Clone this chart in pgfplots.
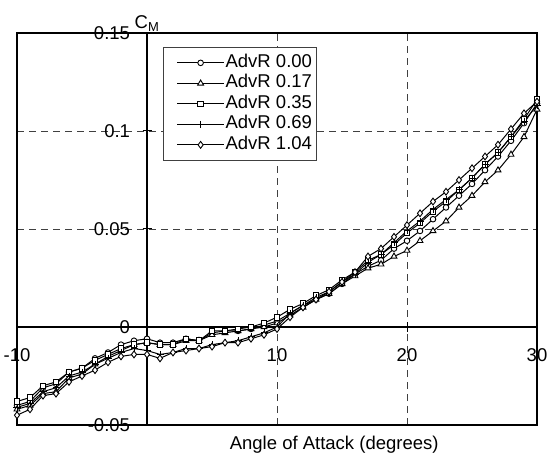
\documentclass[border=0pt]{standalone}
\usepackage{fontspec}
\setmainfont{Liberation Sans}
\usepackage{pgfplots}
\usepackage{pgfplotstable}
\pgfplotsset{compat=1.18}
\pgfplotstableread{
x c0 c17 c35 c69 c104
-10 -0.040 -0.042 -0.038 -0.041 -0.045
-9 -0.038 -0.040 -0.036 -0.039 -0.042
-8 -0.031 -0.034 -0.030 -0.033 -0.035
-7 -0.029 -0.033 -0.028 -0.031 -0.034
-6 -0.023 -0.026 -0.023 -0.025 -0.028
-5 -0.021 -0.024 -0.021 -0.023 -0.025
-4 -0.016 -0.019 -0.017 -0.019 -0.022
-3 -0.013 -0.015 -0.014 -0.016 -0.018
-2 -0.009 -0.012 -0.011 -0.013 -0.015
-1 -0.007 -0.009 -0.009 -0.011 -0.014
0 -0.006 -0.008 -0.008 -0.012 -0.014
1 -0.008 -0.009 -0.009 -0.014 -0.016
2 -0.008 -0.009 -0.009 -0.013 -0.013
3 -0.006 -0.007 -0.006 -0.011 -0.012
4 -0.007 -0.007 -0.007 -0.011 -0.011
5 -0.003 -0.004 -0.002 -0.009 -0.010
6 -0.002 -0.003 -0.002 -0.008 -0.008
7 -0.002 -0.002 -0.001 -0.007 -0.008
8 -0.001 -0.001 0.000 -0.005 -0.006
9 0.001 0.000 0.002 -0.003 -0.004
10 0.003 0.002 0.005 0.000 -0.001
11 0.007 0.006 0.009 0.007 0.005
12 0.011 0.010 0.012 0.011 0.010
13 0.014 0.014 0.016 0.015 0.014
14 0.017 0.017 0.019 0.018 0.018
15 0.022 0.022 0.024 0.023 0.023
16 0.027 0.026 0.028 0.027 0.028
17 0.031 0.030 0.034 0.033 0.036
18 0.034 0.032 0.037 0.037 0.040
19 0.040 0.036 0.042 0.043 0.046
20 0.044 0.039 0.048 0.049 0.052
21 0.049 0.044 0.053 0.054 0.058
22 0.055 0.049 0.059 0.060 0.064
23 0.061 0.054 0.064 0.065 0.069
24 0.067 0.061 0.070 0.070 0.075
25 0.073 0.067 0.076 0.076 0.081
26 0.080 0.074 0.083 0.083 0.087
27 0.087 0.080 0.089 0.089 0.093
28 0.095 0.088 0.097 0.097 0.101
29 0.104 0.097 0.106 0.105 0.109
30 0.114 0.111 0.116 0.113 0.115
}\datatable
\begin{document}
\begin{tikzpicture}
\begin{axis}[name=ax,
  width=520bp, height=392bp, scale only axis,
  xmin=-10, xmax=30, ymin=-0.05, ymax=0.15,
  clip=false,
  axis lines=middle,
  axis line style={-, line width=1.2bp, black},
  xtick={-10,10,20,30}, xticklabels={-10,10,20,30},
  ytick={-0.05,0,0.05,0.1,0.15}, yticklabels={-0.05,0,0.05,0.1,0.15},
  hide obscured x ticks=false, hide obscured y ticks=false,
  tick align=center, major tick length=9bp,
  tick style={black, line width=1bp},
  grid=major,
  grid style={black!75, line width=0.8bp, dash pattern=on 7bp off 5bp},
  font=\fontsize{18.5bp}{21bp}\selectfont,
  tick label style={font=\fontsize{18.5bp}{21bp}\selectfont},
  xticklabel style={anchor=north, yshift=-14bp},
  yticklabel style={anchor=east, xshift=-9bp},
  xlabel={Angle of Attack (degrees)},
  xlabel style={at={(rel axis cs:0.61,0)}, anchor=north, yshift=-8bp, font=\fontsize{18.5bp}{21bp}\selectfont},
  ylabel={C\textsubscript{M}},
  ylabel style={at={(rel axis cs:0.25,1)}, anchor=south, yshift=-2bp, font=\fontsize{18.5bp}{21bp}\selectfont},
  legend style={at={(rel axis cs:0.281,0.964)}, anchor=north west,
    draw=black!75, line width=1bp, fill=white,
    font=\fontsize{18.5bp}{21bp}\selectfont,
    nodes={inner sep=1bp, text height=13.5bp, text depth=5bp},
    inner xsep=3bp, inner ysep=5bp, row sep=0bp},
  legend cell align=left,
  legend image code/.code={\path (-10bp,0bp); \draw[#1, mark repeat=2, mark phase=2] plot coordinates {(0bp,0bp) (23.5bp,0bp) (47bp,0bp)};},
]
\addplot[black, line width=1bp, mark=*, mark size=2.8bp, mark options={solid, fill=white, line width=0.9bp}] table[x=x, y=c0] {\datatable};
\addlegendentry{AdvR 0.00}
\addplot[black, line width=1bp, mark=triangle*, mark size=3.4bp, mark options={solid, fill=white, line width=0.9bp}] table[x=x, y=c17] {\datatable};
\addlegendentry{AdvR 0.17}
\addplot[black, line width=1bp, mark=square*, mark size=2.8bp, mark options={solid, fill=white, line width=0.9bp}] table[x=x, y=c35] {\datatable};
\addlegendentry{AdvR 0.35}
\addplot[black, line width=1bp, mark=+, mark size=3.5bp, mark options={solid, line width=1bp}] table[x=x, y=c69] {\datatable};
\addlegendentry{AdvR 0.69}
\addplot[black, line width=1bp, mark=diamond*, mark size=3.4bp, mark options={solid, fill=white, line width=0.9bp}] table[x=x, y=c104] {\datatable};
\addlegendentry{AdvR 1.04}
\draw[line width=1.2bp, black] (rel axis cs:0,0) rectangle (rel axis cs:1,1);
\end{axis}
\pgfresetboundingbox
\path[use as bounding box] ([shift={(-17bp,-37bp)}]ax.south west) rectangle ([shift={(12bp,33bp)}]ax.north east);
\end{tikzpicture}
\end{document}
